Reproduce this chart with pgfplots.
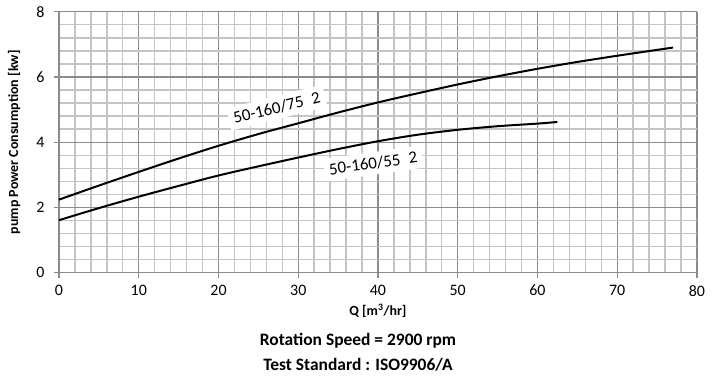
\documentclass[border=0pt]{standalone}
\usepackage{fontspec}
\setmainfont{Carlito}
\usepackage{pgfplots}
\pgfplotsset{compat=1.18}
\definecolor{majg}{HTML}{8C8C8C}
\definecolor{ming}{HTML}{C4C4C4}
\begin{document}
\begin{tikzpicture}
\begin{axis}[
  scale only axis,
  width=638bp, height=261bp,
  xmin=0, xmax=80, ymin=0, ymax=8,
  xtick={0,10,...,80}, ytick={0,2,...,8},
  minor x tick num=4, minor y tick num=4,
  grid=both,
  major grid style={majg, line width=1.4bp},
  minor grid style={ming, line width=1.4bp},
  axis x line*=bottom, axis y line*=left,
  axis line style={majg, line width=1.4bp, -},
  tick style={majg, line width=1.2bp},
  major tick length=5bp, minor tick length=0pt,
  tick align=outside,
  /pgf/number format/assume math mode=true,
  tick label style={font=\fontsize{16}{18}\selectfont},
  xticklabel style={yshift=-4bp},
  yticklabel style={xshift=-6bp},
  xlabel={Q [m\textsuperscript{3}/hr]},
  ylabel={pump Power Consumption [kw]},
  every axis x label/.style={at={(axis description cs:0.5,-0.147)}, anchor=center, font=\bfseries\fontsize{14}{16}\selectfont},
  every axis y label/.style={at={(axis description cs:-0.0705,0.5)}, rotate=90, anchor=center, font=\bfseries\fontsize{14}{16}\selectfont},
  clip=false,
]
\addplot[black, line width=2bp, smooth] coordinates {
(0,2.24) (5,2.67) (10,3.09) (15,3.50) (20,3.89) (25,4.25) (30,4.58) (35,4.91)
(40,5.22) (45,5.50) (50,5.77) (55,6.02) (60,6.25) (65,6.46) (70,6.65) (75,6.83) (77,6.90)};
\addplot[black, line width=2bp, smooth] coordinates {
(0,1.61) (5,1.98) (10,2.33) (15,2.66) (20,2.98) (25,3.26) (30,3.53) (35,3.79)
(40,4.03) (45,4.23) (50,4.38) (55,4.49) (60,4.57) (62.5,4.62)};
\node[fill=white, rotate=14, inner sep=5bp, font=\fontsize{17}{19}\selectfont] at (axis cs:27.3,5.06) {50-160/75\enspace 2};
\node[fill=white, rotate=8, inner sep=5bp, font=\fontsize{17}{19}\selectfont] at (axis cs:39.4,3.35) {50-160/55\enspace 2};
\end{axis}
\node[font=\bfseries\fontsize{17.5}{19}\selectfont] at (299bp,-68.5bp) {Rotation Speed = 2900 rpm};
\node[font=\bfseries\fontsize{17.5}{19}\selectfont] at (299bp,-92.5bp) {Test Standard : ISO9906/A};
\pgfresetboundingbox
\useasboundingbox (-59bp,-104.3bp) rectangle (653bp,272.7bp);
\end{tikzpicture}
\end{document}
